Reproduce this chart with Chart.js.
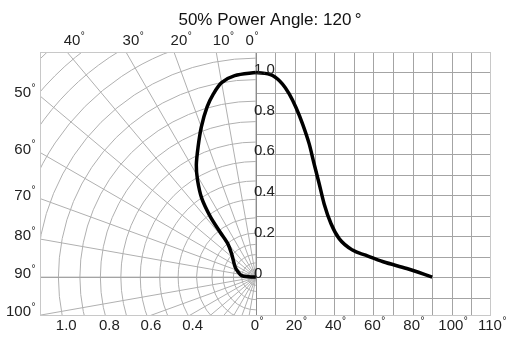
<!DOCTYPE html>
<html>
<head>
    <title>50% Power Angle: 120°</title>
    <script src="https://cdn.jsdelivr.net/npm/chart.js"></script>
    <style>
        body { margin: 0; background: #fff; }
    </style>
</head>
<body>

<canvas id="chart" width="513" height="337"></canvas>

<script>

/* DATA */
// right half: relative intensity vs angle
const angleDeg     = [0, 8.5, 13.6, 17, 20.4, 23.8, 27.2, 29.7, 32.3, 34.8, 38.3, 42.5, 49.3, 56, 65, 77, 90];
const relIntensity = [1.0, 0.985, 0.943, 0.895, 0.83, 0.749, 0.651, 0.554, 0.456, 0.359, 0.262, 0.188, 0.132, 0.107, 0.075, 0.042, 0.0];

// left half: the same pattern as drawn on the polar grid
const polarAngleDeg = [0, 6, 10, 13, 16, 20, 24, 28, 31, 34.5, 37, 38.5, 40, 46, 64, 73, 84, 87, 90];
const polarRadius   = [1.0, 0.99, 0.965, 0.92, 0.865, 0.78, 0.695, 0.62, 0.554, 0.467, 0.369, 0.28, 0.215, 0.165, 0.113, 0.092, 0.07, 0.034, 0.0];

// polar grid rings (radius in intensity units) and spokes (degrees off axis)
const ringRadius  = [0.04, 0.07, 0.11, 0.16, 0.215, 0.29, 0.38, 0.47, 0.565, 0.66, 0.76, 0.86, 0.965, 1.07, 1.18, 1.29, 1.39, 1.5, 1.61];
const spokeAngles = [0, 10, 20, 30, 40, 50, 60, 70, 80, 90, 100, 110, 120, 130, 140, 150, 160, 170];

const topAngleLabels  = [40, 30, 20, 10, 0];
const sideAngleLabels = [50, 60, 70, 80, 90, 100];
const ringTickText    = ["1.0", "0.8", "0.6", "0.4"];
const ringTickRadius  = [0.965, 0.76, 0.565, 0.38];
const yTickValues     = [1.0, 0.8, 0.6, 0.4, 0.2, 0];
const yTickText       = ["1.0", "0.8", "0.6", "0.4", "0.2", "0"];
const degTickValues   = [0, 20, 40, 60, 80, 100, 120];
const degTickText     = ["0", "20", "40", "60", "80", "100", "110"];

/* AXIS RANGES / PLOT BOX */
const X_MIN = -110.2, X_MAX = 120, Y_MIN = -0.19, Y_MAX = 1.1;
const PAD = { left: 40, top: 52, right: 22, bottom: 21 };
const W = 513, H = 337;

// one unit of polar radius expressed in x-axis (degree) units
const K = ((H - PAD.top - PAD.bottom) / (Y_MAX - Y_MIN)) /
          ((W - PAD.left - PAD.right) / (X_MAX - X_MIN));

const rad = d => d * Math.PI / 180;

const cartesianPoints = angleDeg.map((a, i) => ({ x: a, y: relIntensity[i] }));
const polarPoints = polarAngleDeg.map((a, i) => ({
    x: -polarRadius[i] * Math.sin(rad(a)) * K,
    y: polarRadius[i] * Math.cos(rad(a))
}));

const FONT = '"Liberation Sans", Arial, sans-serif';

/* number with a small raised degree ring */
function degLabel(ctx, num, x, y, align) {
    ctx.font = "15px " + FONT;
    const w = ctx.measureText(num).width;
    let left = x - w / 2;
    if (align === "right") left = x - w;
    if (align === "left") left = x;
    ctx.textAlign = "left";
    ctx.textBaseline = "middle";
    ctx.fillText(num, left, y);
    ctx.font = "10px " + FONT;
    ctx.fillText("°", left + w + 0.5, y - 5);
}

/* GRID */
const gridPlugin = {
    id: "radiationGrid",
    beforeDatasetsDraw(chart) {
        const { ctx, chartArea: a, scales: { x, y } } = chart;
        const ox = x.getPixelForValue(0), oy = y.getPixelForValue(0);
        const R = oy - y.getPixelForValue(1);
        const snap = v => Math.round(v) + 0.5;

        ctx.save();
        ctx.beginPath();
        ctx.rect(a.left, a.top, a.right - a.left, a.bottom - a.top);
        ctx.clip();
        ctx.lineWidth = 1;

        // polar half (left)
        ctx.strokeStyle = "#b0b0b0";
        ringRadius.forEach(r => {
            ctx.beginPath();
            ctx.arc(ox, oy, r * R, Math.PI / 2, Math.PI * 1.5);
            ctx.stroke();
        });
        spokeAngles.forEach(d => {
            ctx.beginPath();
            ctx.moveTo(ox, oy);
            ctx.lineTo(ox - 1500 * Math.sin(rad(d)), oy - 1500 * Math.cos(rad(d)));
            ctx.stroke();
        });

        // cartesian half (right)
        ctx.strokeStyle = "#a4a4a4";
        for (let d = 10; d <= 110; d += 10) {
            const px = snap(x.getPixelForValue(d));
            ctx.beginPath();
            ctx.moveTo(px, a.top);
            ctx.lineTo(px, a.bottom);
            ctx.stroke();
        }
        for (let i = -1; i <= 10; i++) {
            const py = snap(y.getPixelForValue(i / 10));
            ctx.beginPath();
            ctx.moveTo(i === 0 ? a.left : ox, py);
            ctx.lineTo(a.right, py);
            ctx.stroke();
        }

        // centre axis
        ctx.strokeStyle = "#8c8c8c";
        ctx.beginPath();
        ctx.moveTo(snap(ox), a.top);
        ctx.lineTo(snap(ox), a.bottom);
        ctx.stroke();
        ctx.restore();

        // frame
        ctx.save();
        ctx.strokeStyle = "#c8c8c8";
        ctx.strokeRect(a.left + 0.5, a.top + 0.5, a.right - a.left - 1, a.bottom - a.top - 1);
        ctx.restore();
    },

    afterDraw(chart) {
        const { ctx, chartArea: a, scales: { x, y } } = chart;
        const ox = x.getPixelForValue(0), oy = y.getPixelForValue(0);
        const R = oy - y.getPixelForValue(1);

        ctx.save();
        ctx.fillStyle = "#111";

        // title
        ctx.font = "17px " + FONT;
        ctx.textAlign = "center";
        ctx.textBaseline = "middle";
        ctx.fillText("50% Power Angle: 120\u2009°", 270, 20);

        ctx.fillStyle = "#222";

        // angle labels along the top edge
        topAngleLabels.forEach(d => {
            const px = ox - (oy - a.top) * Math.tan(rad(d));
            if (d === 0) degLabel(ctx, String(d), px - 2, 41, "right");
            else degLabel(ctx, String(d), px + 5, 41, "center");
        });

        // angle labels along the left edge
        sideAngleLabels.forEach(d => {
            const py = oy - (ox - a.left) * Math.cos(rad(d)) / Math.sin(rad(d));
            degLabel(ctx, String(d), 31, py - 3, "right");
        });

        // intensity labels on the centre axis
        ctx.font = "15px " + FONT;
        ctx.textAlign = "left";
        ctx.textBaseline = "middle";
        yTickValues.forEach((v, i) => {
            ctx.fillText(yTickText[i], ox - 2, y.getPixelForValue(v) - 3);
        });

        // ring labels along the bottom edge
        const depth = a.bottom - oy;
        ringTickText.forEach((t, i) => {
            const r = ringTickRadius[i] * R;
            const px = ox - Math.sqrt(r * r - depth * depth);
            ctx.textAlign = "center";
            ctx.fillText(t, px + 4, 326);
        });

        // degree labels under the cartesian grid
        degTickValues.forEach((d, i) => {
            degLabel(ctx, degTickText[i], x.getPixelForValue(d) - 1, 326, "center");
        });

        ctx.restore();
    }
};

/* CHART */
new Chart(document.getElementById("chart"), {
    type: "scatter",
    data: {
        datasets: [
            {
                label: "Cartesian",
                data: cartesianPoints,
                showLine: true,
                borderColor: "#000",
                borderWidth: 3.5,
                pointRadius: 0,
                cubicInterpolationMode: "monotone"
            },
            {
                label: "Polar",
                data: polarPoints,
                showLine: true,
                borderColor: "#000",
                borderWidth: 3.5,
                pointRadius: 0,
                tension: 0.3
            }
        ]
    },
    options: {
        responsive: false,
        animation: false,
        devicePixelRatio: 1,
        layout: { padding: PAD },
        scales: {
            x: { type: "linear", min: X_MIN, max: X_MAX, display: false },
            y: { type: "linear", min: Y_MIN, max: Y_MAX, display: false }
        },
        plugins: {
            legend: { display: false },
            tooltip: { enabled: false },
            title: { display: false }
        }
    },
    plugins: [gridPlugin]
});

</script>

</body>
</html>
